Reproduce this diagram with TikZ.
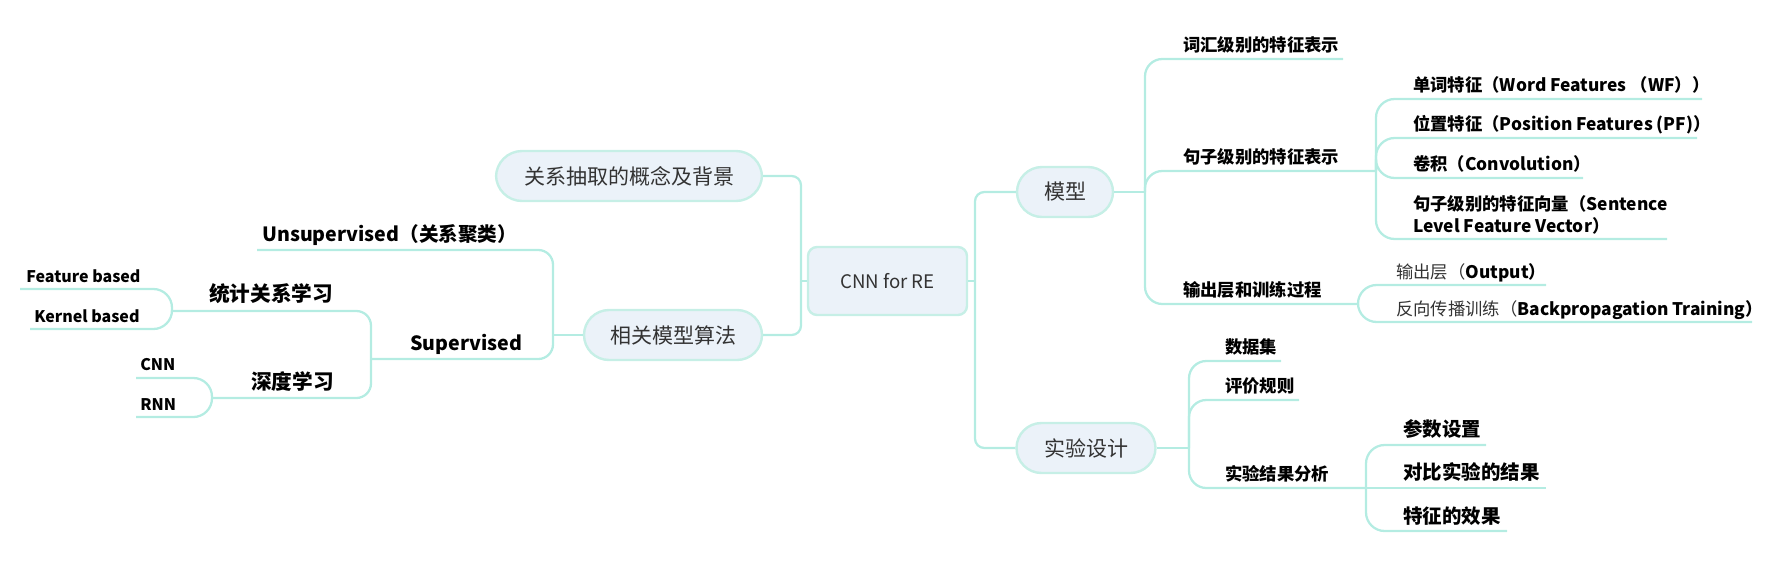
\documentclass[tikz,border=0pt]{standalone}
\usepackage{fontspec}
\setmainfont{Noto Sans CJK SC}
\usetikzlibrary{calc}
\definecolor{linec}{HTML}{B4ECE2}
\definecolor{nfill}{HTML}{EBF2F9}
\definecolor{nbord}{HTML}{C6EFE6}
\definecolor{ntext}{HTML}{333333}
\tikzset{
  conn/.style={draw=linec, line width=1.7pt, rounded corners=#1},
  conn/.default=7pt,
  topic/.style={draw=nbord, fill=nfill, line width=1.8pt, text=ntext,
    font=\fontsize{15.75}{18}\selectfont, inner sep=0pt, minimum height=37.5pt},
  lbl/.style={anchor=base west, inner sep=0pt, text=black, font=\bfseries\fontsize{13}{16.5}\selectfont},
  lblbig/.style={lbl, font=\bfseries\fontsize{14.6}{17}\selectfont},
  lblleft/.style={lbl, font=\bfseries\fontsize{14.7}{17}\selectfont},
  lblsmall/.style={lbl, font=\bfseries\fontsize{12}{14}\selectfont},
}
\begin{document}
\begin{tikzpicture}[x=0.75pt,y=-0.75pt]
\useasboundingbox (0,0) rectangle (1786,561);

% ---------- topic nodes ----------
\node[topic, minimum width=199.5pt, rounded corners=19.5pt] (bg) at (629,176) {关系抽取的概念及背景};
\node[topic, minimum width=133.5pt, rounded corners=18.75pt] (algo) at (673,335) {相关模型算法};
\node[topic, minimum width=119.25pt, minimum height=51pt, rounded corners=6.75pt,
      font=\fontsize{14}{16}\selectfont] (root) at (887.5,281) {CNN for RE};
\node[topic, minimum width=72pt, rounded corners=18.75pt] (model) at (1065,192) {模型};
\node[topic, minimum width=104.25pt, rounded corners=18.75pt] (exp) at (1086,448) {实验设计};

% ---------- bracket x positions ----------
\coordinate (bL) at (801,0);
\coordinate (bR) at (975,0);
\coordinate (bA) at (553,0);
\coordinate (bM) at (1145,0);
\coordinate (bE) at (1189,0);

% ---------- left labels ----------
\node[lblleft] (unsup) at (262,241) {Unsupervised（关系聚类）};
\coordinate (unsupE) at (257,250);
\node[lblleft] (sup) at (410,350) {Supervised};
\coordinate (supE) at (371,359);
\node[lblleft, font=\bfseries\fontsize{15.5}{17}\selectfont] (stat) at (209,301) {统计关系学习};
\coordinate (statE) at (172,311);
\node[lblleft, font=\bfseries\fontsize{15.5}{17}\selectfont] (deep) at (251,389) {深度学习};
\coordinate (deepE) at (212,398);
\node[lblsmall] (feat) at (26,282) {Feature based};
\coordinate (featE) at (20,289);
\node[lblsmall] (kern) at (34,322) {Kernel based};
\coordinate (kernE) at (30,329);
\node[lblsmall] (cnn) at (140,370) {CNN};
\coordinate (cnnE) at (136,378);
\node[lblsmall] (rnn) at (140,410) {RNN};
\coordinate (rnnE) at (136,417);

% ---------- right labels (model) ----------
\node[lbl] (vocab) at (1183,51) {词汇级别的特征表示};
\coordinate (vocabE) at (1343,59);
\node[lbl] (sent) at (1183,163) {句子级别的特征表示};
\coordinate (sentE) at (1376,171);
\node[lbl] (outp) at (1183,296) {输出层和训练过程};
\coordinate (outpE) at (1358,304);

\node[lbl] (wf) at (1413,91) {单词特征（Word Features （WF））};
\coordinate (wfE) at (1702,99);
\node[lbl] (pf) at (1413,130) {位置特征（Position Features (PF)）};
\coordinate (pfE) at (1697,138);
\node[lbl] (conv) at (1413,170) {卷积（Convolution）};
\coordinate (convE) at (1583,178);
\node[lbl, anchor=south west, align=left] (sfv) at (1413,235) {句子级别的特征向量（Sentence\\Level Feature Vector）};
\coordinate (sfvE) at (1667,239);
\node[lbl] (output) at (1396,278) {{\mdseries\color{ntext}输出层（}Output）};
\coordinate (outputE) at (1546,285);
\node[lbl] (bp) at (1396,315) {{\mdseries\color{ntext}反向传播训练（}Backpropagation Training）};
\coordinate (bpE) at (1752,322);

% ---------- right labels (experiment) ----------
\node[lbl] (data) at (1225,353) {数据集};
\coordinate (dataE) at (1281,361);
\node[lbl] (eval) at (1225,392) {评价规则};
\coordinate (evalE) at (1299,400);
\node[lbl] (res) at (1225,480) {实验结果分析};
\coordinate (resE) at (1366,488);
\node[lblbig] (param) at (1403,436) {参数设置};
\coordinate (paramE) at (1486,445);
\node[lblbig] (cmp) at (1403,479) {对比实验的结果};
\coordinate (cmpE) at (1546,488);
\node[lblbig] (feff) at (1403,523) {特征的效果};
\coordinate (feffE) at (1507,531);

% ---------- connectors: root ----------
\draw[conn] (root.west) -- (root.west -| bL);
\draw[conn] (root.west -| bL) |- (bg.east);
\draw[conn] (root.west -| bL) |- (algo.east);
\draw[conn] (root.east) -- (root.east -| bR);
\draw[conn] (root.east -| bR) |- (model.west);
\draw[conn] (root.east -| bR) |- (exp.west);

% ---------- connectors: left ----------
\draw[conn] (algo.west) -- (algo.west -| bA);
\draw[conn=11pt] (algo.west -| bA) |- (unsupE);
\draw[conn=11pt] (algo.west -| bA) |- (supE);
\draw[conn=11pt] (supE) |- (statE);
\draw[conn=11pt] (supE) |- (deepE);
\draw[conn=14pt] (statE) |- (featE);
\draw[conn=14pt] (statE) |- (kernE);
\draw[conn=14pt] (deepE) |- (cnnE);
\draw[conn=14pt] (deepE) |- (rnnE);

% ---------- connectors: model ----------
\draw[conn] (model.east) -- (model.east -| bM);
\draw[conn=13pt] (model.east -| bM) |- (vocabE);
\draw[conn=13pt] (model.east -| bM) |- (sentE);
\draw[conn=13pt] (model.east -| bM) |- (outpE);
\draw[conn=14pt] (sentE) |- (wfE);
\draw[conn=14pt] (sentE) |- (pfE);
\draw[conn=14pt] (sentE) |- (convE);
\draw[conn=14pt] (sentE) |- (sfvE);
\draw[conn=14pt] (outpE) |- (outputE);
\draw[conn=14pt] (outpE) |- (bpE);

% ---------- connectors: experiment ----------
\draw[conn] (exp.east) -- (exp.east -| bE);
\draw[conn=13pt] (exp.east -| bE) |- (dataE);
\draw[conn=13pt] (exp.east -| bE) |- (evalE);
\draw[conn=13pt] (exp.east -| bE) |- (resE);
\draw[conn=14pt] (resE) |- (paramE);
\draw[conn] (resE) -- (cmpE);
\draw[conn=14pt] (resE) |- (feffE);
\end{tikzpicture}
\end{document}
